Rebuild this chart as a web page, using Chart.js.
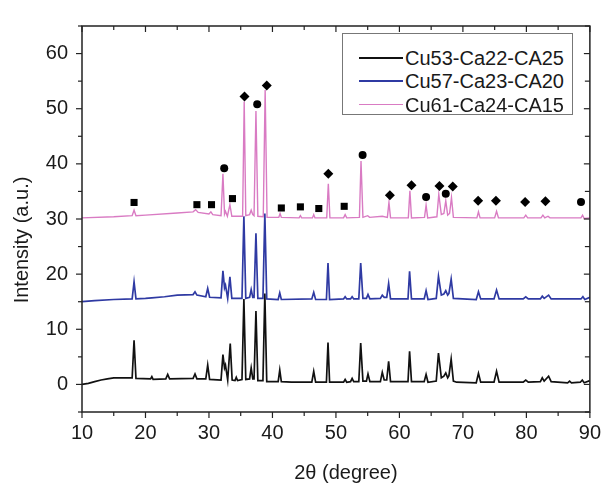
<!DOCTYPE html>
<html><head><meta charset="utf-8">
<script src="https://cdn.jsdelivr.net/npm/chart.js@4.4.1/dist/chart.umd.min.js"></script>
<style>
html,body{margin:0;padding:0;background:#fff;}
#wrap{position:relative;width:610px;height:485px;}
#legend{position:absolute;left:342px;top:33px;width:229px;height:80px;border:1px solid #777;background:#fff;font-family:"Liberation Sans",Arial,sans-serif;font-size:20px;color:#1a1a1a;}
.row{position:absolute;left:0;width:229px;height:24px;}
.sw{position:absolute;left:16px;top:11px;width:44px;height:0;border-top-style:solid;}
.lbl{position:absolute;left:62px;top:0;line-height:24px;white-space:nowrap;}
</style>
</head><body>
<div id="wrap">
<canvas id="c" width="610" height="485"></canvas>
<div id="legend"></div>
</div>
<script>
// ---- data ----
const seriesNames = ['Cu53-Ca22-CA25', 'Cu57-Ca23-CA20', 'Cu61-Ca24-CA15'];
const seriesColors = ['#111111', '#2f3aa3', '#d97bc3'];
const seriesWidths = [1.7, 1.7, 1.4];
const xTicks = [10, 20, 30, 40, 50, 60, 70, 80, 90];
const xMinorTicks = [15, 25, 35, 45, 55, 65, 75, 85];
const yTicks = [0, 10, 20, 30, 40, 50, 60];
const yMinorTicks = [-5, 5, 15, 25, 35, 45, 55, 65];
const xTitle = '2θ (degree)';
const yTitle = 'Intensity (a.u.)';

const blackPoints = [[10,0],[11,0.2],[12,0.5],[13,0.8],[14,1.0],[15,1.2],[17.9,1.2],[18.2,8.0],[18.5,1.1],[20.8,1.0],[21.0,1.4],[21.2,0.9],[23.2,1.0],[23.5,1.8],[23.8,1.0],[27.5,1.1],[27.8,1.9],[28.1,1.0],[29.5,1.0],[29.8,3.5],[30.1,0.9],[31.9,0.8],[32.2,5.4],[32.45,3.0],[32.6,3.5],[32.95,0.8],[33.35,7.4],[33.65,0.8],[34.1,0.7],[34.3,1.3],[34.5,0.7],[35.2,0.9],[35.5,15.5],[35.8,0.9],[36.4,1.0],[36.65,3.0],[36.9,1.0],[37.1,1.0],[37.4,13.3],[37.7,0.7],[38.5,0.7],[38.8,16.5],[39.1,0.5],[40.9,0.5],[41.15,2.6],[41.4,0.5],[43.0,0.4],[46.2,0.4],[46.5,2.35],[46.8,0.4],[48.5,0.4],[48.75,7.6],[49.0,0.4],[51.2,0.4],[51.45,0.9],[51.7,0.4],[52.3,0.5],[52.55,1.1],[52.8,0.5],[53.6,0.5],[53.9,7.5],[54.25,0.6],[54.8,0.6],[55.05,1.9],[55.35,0.5],[57.0,0.5],[57.3,2.2],[57.6,0.8],[58.0,0.8],[58.3,4.2],[58.6,0.5],[61.35,0.5],[61.6,6.0],[61.9,0.5],[63.9,0.5],[64.2,1.8],[64.5,0.4],[65.8,0.6],[66.15,5.7],[66.6,1.2],[67.0,1.5],[67.3,2.1],[67.6,1.2],[67.8,1.6],[68.15,4.6],[68.5,0.6],[69.0,0.4],[72.1,0.3],[72.45,2.0],[72.8,0.4],[74.9,0.4],[75.3,2.4],[75.7,0.4],[79.5,0.4],[79.9,0.8],[80.3,0.4],[82.2,0.5],[82.5,1.2],[82.8,0.6],[83.5,1.5],[83.9,0.5],[86.5,0.3],[86.8,0.6],[87.1,0.3],[88.5,0.4],[88.8,0.8],[89.1,0.3],[90,0.7]];

const bluePoints = [[10,15.0],[12,15.2],[15,15.4],[17.9,15.5],[18.2,18.6],[18.5,15.5],[20,15.6],[21,15.7],[23,15.9],[25,16.2],[27.5,16.3],[27.8,16.8],[28.1,16.2],[29.5,15.9],[29.8,17.4],[30.1,15.8],[31.9,15.7],[32.2,20.6],[32.45,17.5],[32.6,18.0],[32.95,15.6],[33.3,19.5],[33.6,15.6],[35.2,15.6],[35.5,30.5],[35.8,15.6],[36.4,15.8],[36.65,17.2],[36.9,15.8],[37.1,15.8],[37.4,27.4],[37.7,15.6],[38.5,15.6],[38.8,31.0],[39.1,15.5],[40.9,15.4],[41.15,16.6],[41.4,15.4],[46.2,15.5],[46.5,16.7],[46.8,15.4],[48.5,15.4],[48.75,22.0],[49.0,15.4],[51.2,15.5],[51.45,15.9],[51.7,15.5],[52.3,15.5],[52.55,15.9],[52.8,15.5],[53.6,15.5],[53.9,22.0],[54.25,15.6],[54.8,15.6],[55.05,16.3],[55.35,15.5],[57.0,15.6],[57.3,16.2],[57.6,15.8],[58.0,15.8],[58.3,18.3],[58.6,15.5],[61.35,15.5],[61.6,20.5],[61.9,15.5],[63.9,15.5],[64.2,17.0],[64.5,15.4],[65.8,15.6],[66.15,19.6],[66.6,16.2],[67.0,16.4],[67.3,17.0],[67.6,16.2],[67.8,16.5],[68.15,19.1],[68.5,15.6],[72.1,15.4],[72.45,16.8],[72.8,15.5],[74.9,15.5],[75.3,17.1],[75.7,15.5],[79.5,15.5],[79.9,15.9],[80.3,15.5],[82.2,15.5],[82.5,16.0],[82.8,15.6],[83.5,16.2],[83.9,15.5],[88.6,15.5],[88.9,15.9],[89.2,15.4],[90,15.8]];

const pinkPoints = [[10,30.2],[15,30.4],[17.9,30.6],[18.2,31.6],[18.5,30.6],[20,30.7],[25,31.1],[27.5,31.3],[27.9,31.7],[28.3,31.2],[30.0,30.9],[30.3,31.3],[30.6,30.8],[31.9,30.6],[32.2,38.2],[32.45,30.9],[32.6,31.4],[32.9,30.5],[33.3,32.6],[33.6,30.5],[35.3,30.5],[35.55,51.3],[35.8,30.6],[36.4,30.8],[36.65,31.6],[36.9,30.8],[37.1,30.6],[37.4,49.6],[37.7,30.5],[38.55,30.4],[38.85,53.4],[39.15,30.3],[41.0,30.3],[41.2,31.0],[41.4,30.3],[44.2,30.2],[44.4,30.6],[44.6,30.2],[46.3,30.2],[46.5,30.8],[46.7,30.2],[48.55,30.2],[48.8,36.4],[49.05,30.2],[51.2,30.2],[51.45,30.8],[51.7,30.2],[53.7,30.3],[53.95,40.5],[54.25,30.3],[55.0,30.6],[55.3,30.3],[57.3,30.5],[58.1,30.3],[58.35,33.0],[58.6,30.2],[61.4,30.2],[61.65,35.1],[61.9,30.2],[63.95,30.3],[64.2,32.5],[64.45,30.2],[65.9,30.4],[66.2,34.5],[66.6,30.8],[67.0,31.0],[67.3,33.3],[67.6,30.7],[67.9,31.0],[68.2,33.9],[68.5,30.3],[72.2,30.2],[72.45,31.3],[72.7,30.2],[75.0,30.2],[75.3,31.4],[75.6,30.2],[79.6,30.2],[79.9,30.7],[80.2,30.2],[82.3,30.2],[82.6,30.7],[82.9,30.2],[83.4,30.5],[83.7,30.2],[88.6,30.2],[88.85,30.7],[89.1,30.1],[90,30.2]];

const squareMarks = [[18.2,33.0],[28.1,32.6],[30.4,32.6],[33.7,33.7],[41.4,32.0],[44.4,32.2],[47.3,31.9],[51.3,32.3]];
const circleMarks = [[32.4,39.2],[37.6,50.8],[54.2,41.6],[64.2,34.0],[67.3,34.6],[88.6,33.1]];
const diamondMarks = [[35.6,52.2],[39.1,54.2],[48.8,38.2],[58.5,34.3],[61.9,36.1],[66.3,36.0],[68.4,35.9],[72.4,33.3],[75.2,33.3],[79.8,33.1],[83.0,33.2]];

// ---- build ----
const FONT = '"Liberation Sans", Arial, sans-serif';
const TXT = '#1a1a1a';
const toXY = arr => arr.map(([x, y]) => ({x, y}));
const seriesData = [blackPoints, bluePoints, pinkPoints];

const lineSets = seriesData.map((pts, i) => ({
  label: seriesNames[i], data: toXY(pts), borderColor: seriesColors[i], backgroundColor: seriesColors[i],
  borderWidth: seriesWidths[i], pointRadius: 0, tension: 0, fill: false, order: 3 - i
}));
const markSet = (pts, style, r) => ({
  label: style, data: toXY(pts), showLine: false, pointStyle: style, pointRadius: r,
  pointBackgroundColor: '#000', pointBorderColor: '#000', pointBorderWidth: 0, order: 0
});
const datasets = lineSets.concat([
  markSet(squareMarks, 'rect', 5),
  markSet(circleMarks, 'circle', 4),
  markSet(diamondMarks, 'rectRot', 5)
]);

const framePlugin = {
  id: 'frame',
  afterDatasetsDraw(chart) {
    const {ctx, chartArea: a, scales: {x, y}} = chart;
    ctx.save();
    ctx.strokeStyle = '#222';
    ctx.lineWidth = 1.5;
    ctx.strokeRect(a.left, a.top, a.right - a.left, a.bottom - a.top);
    ctx.lineWidth = 1.2;
    const tick = (x1, y1, x2, y2) => { ctx.beginPath(); ctx.moveTo(x1, y1); ctx.lineTo(x2, y2); ctx.stroke(); };
    xTicks.forEach(v => { const p = x.getPixelForValue(v); tick(p, a.bottom, p, a.bottom + 6); tick(p, a.top, p, a.top + 6); });
    xMinorTicks.forEach(v => { const p = x.getPixelForValue(v); tick(p, a.bottom, p, a.bottom + 4); tick(p, a.top, p, a.top + 4); });
    yTicks.forEach(v => { const p = y.getPixelForValue(v); tick(a.left - 6, p, a.left, p); tick(a.right - 6, p, a.right, p); });
    yMinorTicks.forEach(v => { const p = y.getPixelForValue(v); tick(a.left - 4, p, a.left, p); tick(a.right - 5, p, a.right, p); });
    ctx.restore();
  },
  afterDraw(chart) {
    const {ctx, chartArea: a} = chart;
    ctx.save();
    ctx.fillStyle = TXT;
    ctx.font = '20px ' + FONT;
    ctx.textAlign = 'center';
    ctx.textBaseline = 'middle';
    ctx.fillText(xTitle, (a.left + a.right) / 2 + 10, a.bottom + 61);
    ctx.translate(22, (a.top + a.bottom) / 2 + 21);
    ctx.rotate(-Math.PI / 2);
    ctx.fillText(yTitle, 0, 0);
    ctx.restore();
  }
};

new Chart(document.getElementById('c'), {
  type: 'line',
  data: {datasets},
  options: {
    responsive: false, animation: false, devicePixelRatio: 1,
    layout: {padding: {top: 11, right: 12, left: 0, bottom: 0}},
    plugins: {legend: {display: false}, tooltip: {enabled: false}},
    scales: {
      x: {
        type: 'linear', min: 10, max: 90,
        afterBuildTicks: s => { s.ticks = xTicks.map(v => ({value: v})); },
        afterFit: s => { s.height = 73; },
        grid: {display: false, drawTicks: false}, border: {display: false},
        ticks: {padding: 9, color: TXT, autoSkip: false, maxRotation: 0, font: {family: FONT, size: 20}}
      },
      y: {
        type: 'linear', min: -5, max: 65,
        afterBuildTicks: s => { s.ticks = yTicks.map(v => ({value: v})); },
        afterFit: s => { s.width = 82; },
        grid: {display: false, drawTicks: false}, border: {display: false},
        ticks: {padding: 14, color: TXT, font: {family: FONT, size: 20}}
      }
    }
  },
  plugins: [framePlugin]
});

// ---- legend (HTML, real text) ----
const lg = document.getElementById('legend');
const rowCenters = [23.5, 47, 70.5];
seriesNames.forEach((n, i) => {
  const r = document.createElement('div');
  r.className = 'row';
  r.style.top = (rowCenters[i] - 12) + 'px';
  const sw = document.createElement('div');
  sw.className = 'sw';
  sw.style.borderTopColor = seriesColors[i];
  sw.style.borderTopWidth = (i === 2 ? 1.5 : 2) + 'px';
  const t = document.createElement('div');
  t.className = 'lbl';
  t.textContent = n;
  r.appendChild(sw); r.appendChild(t);
  lg.appendChild(r);
});
</script>
</body></html>
